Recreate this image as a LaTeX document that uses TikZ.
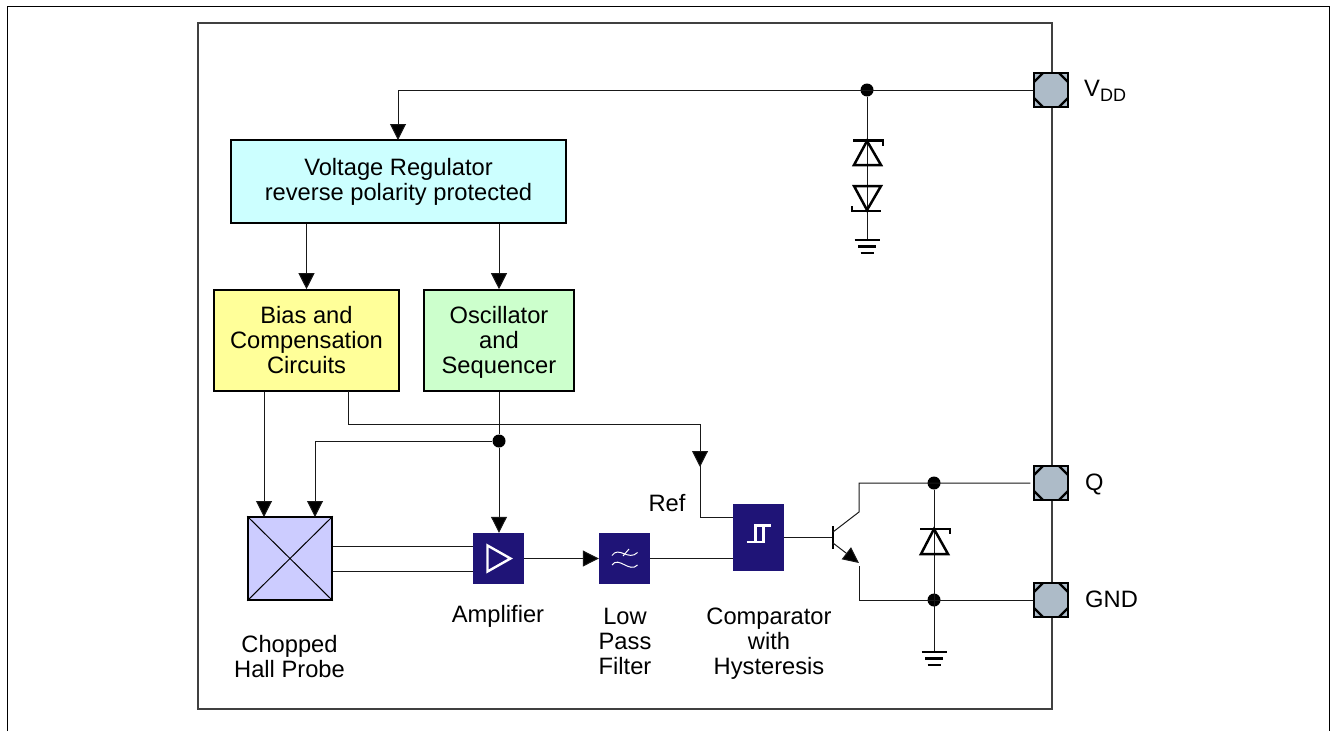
\documentclass[tikz,border=0pt]{standalone}
\usepackage{fontspec}
\setmainfont{Liberation Sans}
\usetikzlibrary{arrows.meta,calc}
\definecolor{bluebox}{HTML}{1F1477}
\definecolor{padgrey}{HTML}{ADBBC8}
\definecolor{regfill}{HTML}{CCFFFF}
\definecolor{biasfill}{HTML}{FFFF99}
\definecolor{oscfill}{HTML}{CCFFCC}
\definecolor{hallfill}{HTML}{CCCCFF}
\tikzset{
  wire/.style={line width=1pt,black!90},
  arr/.style={wire,-{Triangle[length=16pt,width=16pt,fill=black]}},
  block/.style={draw=black,line width=1.6pt,inner sep=0pt,align=center,font=\fontsize{23.7}{25}\selectfont},
  dsp/.style={fill=bluebox,draw=none,inner sep=0pt,minimum width=51pt},
  lbl/.style={inner sep=0pt,align=center,font=\fontsize{23.7}{25}\selectfont},
  dotn/.style={circle,fill=black,inner sep=0pt,minimum size=13pt},
  sym/.style={line width=2.5pt,black},
  white sym/.style={line width=2.4pt,white},
  padn/.style={draw=none,inner sep=0pt,minimum size=36pt},
}
\newcommand{\padshape}[1]{
  \fill[padgrey] ($(#1)+(-18,-18)$) rectangle ($(#1)+(18,18)$);
  \draw[black,line width=2.4pt] ($(#1)+(-17,-8)$) -- ($(#1)+(-8,-17)$) ($(#1)+(8,-17)$) -- ($(#1)+(17,-8)$) ($(#1)+(17,8)$) -- ($(#1)+(8,17)$) ($(#1)+(-8,17)$) -- ($(#1)+(-17,8)$);
  \draw[black,line width=2.6pt] ($(#1)+(-17,-17)$) rectangle ($(#1)+(17,17)$);
}
\newcommand{\groundsym}[1]{
  \draw[line width=2.4pt] ($(#1)+(-12.5,0)$) -- ++(25,0);
  \draw[line width=2.4pt] ($(#1)+(-9,6.5)$) -- ++(18,0);
  \draw[line width=2.4pt] ($(#1)+(-6.5,13)$) -- ++(13,0);
}
\begin{document}
\begin{tikzpicture}[x=1pt,y=-1pt]
\useasboundingbox (0,0) rectangle (1332,731);
\fill[white] (0,0) rectangle (1332,731);
% outer frame, open at the bottom
\draw[black,line width=1.5pt] (7.5,731) -- (7.5,6.5) -- (1329.5,6.5) -- (1329.5,731);
% chip
\node[draw=black!75,line width=1.1pt,inner sep=0pt,minimum width=854pt,minimum height=686pt] (chip) at (625,366) {};

% blocks
\node[block,fill=regfill,minimum width=335pt,minimum height=83pt] (reg) at (398.5,181.5) {Voltage Regulator\\reverse polarity protected};
\node[block,fill=biasfill,minimum width=185pt,minimum height=101pt] (bias) at (306.5,340.5) {Bias and\\Compensation\\Circuits};
\node[block,fill=oscfill,minimum width=150pt,minimum height=101pt] (osc) at (499,340.5) {\rule{0pt}{20pt}Oscillator\\and\\Sequencer};
\node[block,fill=hallfill,minimum width=84pt,minimum height=83pt] (hall) at (290,558.5) {};
\draw[line width=1pt] (hall.north west) -- (hall.south east) (hall.north east) -- (hall.south west);
\node[dsp,minimum height=51pt] (amp) at (498.5,558.5) {};
\node[dsp,minimum height=51pt] (lpf) at (624.5,558.5) {};
\node[dsp,minimum height=67pt] (comp) at (758.5,537.5) {};

% block symbols
\draw[white sym] ($(amp)+(-11,-13)$) -- ($(amp)+(12,0)$) -- ($(amp)+(-11,13)$) -- cycle;
\draw[white,line width=1pt] ($(lpf)+(-12.5,-3)$) .. controls ($(lpf)+(-6,-13)$) and ($(lpf)+(4,3)$) .. ($(lpf)+(13,-6)$);
\draw[white,line width=1pt] ($(lpf)+(-12.5,6.5)$) .. controls ($(lpf)+(-6,-3)$) and ($(lpf)+(5,15)$) .. ($(lpf)+(13,6.5)$);
\draw[white,line width=1pt] ($(lpf)+(-1.5,-2.5)$) -- ($(lpf)+(4.5,-9.5)$);
\draw[white sym] ($(comp)+(-12,4.5)$) -- ($(comp)+(5,4.5)$) -- ($(comp)+(5,-12)$);
\draw[white sym] ($(comp)+(-3,4.5)$) -- ($(comp)+(-3,-12)$) -- ($(comp)+(12,-12)$);

% pads
\node[padn] (vdd) at (1051,90) {};
\node[padn] (q) at (1051,483) {};
\node[padn] (gnd) at (1051,600) {};
\padshape{vdd}
\padshape{q}
\padshape{gnd}

% junctions
\node[dotn] (jv) at (867,90) {};
\node[dotn] (jo) at (499,441) {};
\node[dotn] (jq) at (934,483) {};
\node[dotn] (jg) at (934,600) {};

% named helper points
\coordinate (topreg) at (398,140);
\coordinate (hallA) at (264,517);
\coordinate (hallB) at (315,517);
\coordinate (biasout) at (348,391);
\coordinate (refx) at (700,424);
\coordinate (refmid) at (700,467);
\coordinate (refy) at (700,517);
\coordinate (gv) at (867,240);
\coordinate (gq) at (934,652);
\coordinate (tc) at (859,512);
\coordinate (te) at (859,563);
\coordinate (tb) at (833,537.5);

% connectors
\draw[arr] (vdd.west) -- (vdd.west -| topreg) -- (topreg);
\draw[arr] (reg.south -| bias.north) -- (bias.north);
\draw[arr] (reg.south -| osc.north) -- (osc.north);
\draw[arr] (bias.south -| hallA) -- (hallA);
\draw[wire] (osc.south) -- (jo);
\draw[arr] (jo) -- (amp.north -| jo);
\draw[arr] (jo) -- (jo -| hallB) -- (hallB);
\draw[wire] (biasout) -- (biasout |- refx) -- (refx) -- (refy) -- (comp.west |- refy);
\draw[arr] (refx) -- (refmid);
\draw[wire] ([yshift=-12.5pt]hall.east) -- ([yshift=-12.5pt]amp.west);
\draw[wire] ([yshift=12.5pt]hall.east) -- ([yshift=12.5pt]amp.west);
\draw[arr] (amp.east) -- (lpf.west);
\draw[wire] (lpf.east) -- (lpf.east -| comp.west);
\draw[wire] (comp.east) -- (tb);
\draw[wire] (jv) -- (gv);
\draw[wire] (jq) -- (gq);
\draw[line width=1.8pt] (833,526) -- (833,549);
\draw[wire,shorten >=-0.5pt] (833,532) -- (tc) -- (tc |- jq) -- ([xshift=-3pt]q.west);
\draw[wire,-{Triangle[length=16pt,width=15pt,fill=black]}] (833,543) -- (te);
\draw[wire] (859,566) -- (859,600) -- (gnd.west);

% zener diodes
\draw[sym] (853,140.5) -- (883,140.5) -- (883,145.5);
\draw[sym] (867,141) -- (854,165) -- (881,165) -- cycle;
\draw[sym] (854,186) -- (881,186) -- (867,210) -- cycle;
\draw[sym] (852,206) -- (852,211) -- (881,211);
\draw[sym] (920,529) -- (950,529) -- (950,534);
\draw[sym] (934,529) -- (921,554) -- (948,554) -- cycle;
\groundsym{gv}
\groundsym{gq}

% labels
\node[lbl] (tchop) at (289.5,657) {Chopped\\Hall Probe};
\node[lbl] (tamp) at (498,616) {Amplifier};
\node[lbl] (tlow) at (625,641) {Low\\Pass\\Filter};
\node[lbl] (tcomp) at (769,644) {Comparator\\with\\Hysteresis};
\node[lbl] (tref) at (667,503) {Ref};
\node[lbl,anchor=west] (tvdd) at (1084,91) {V\raisebox{-0.22em}{\fontsize{18}{18}\selectfont DD}};
\node[lbl,anchor=west] (tq) at (1085,484) {Q};
\node[lbl,anchor=west] (tgnd) at (1085,599) {GND};
\end{tikzpicture}
\end{document}
